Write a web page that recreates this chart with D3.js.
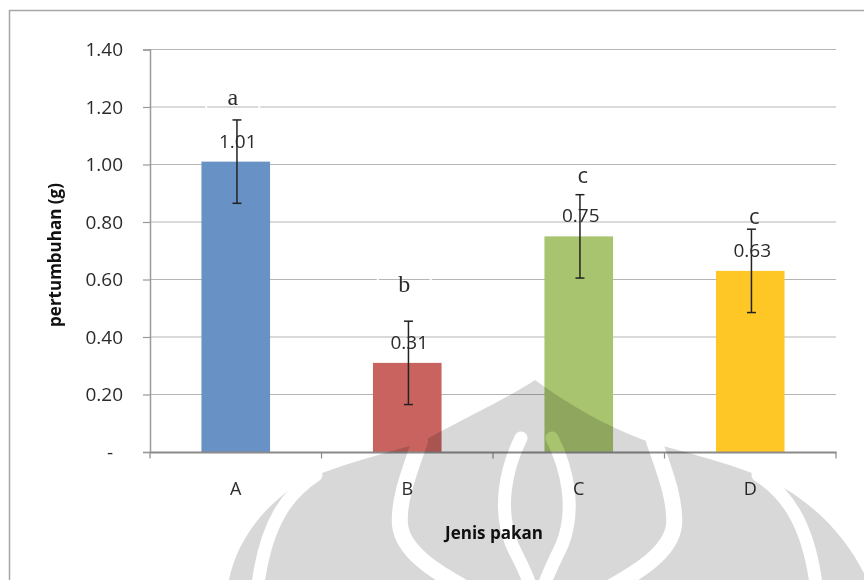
<!DOCTYPE html>
<html>
<head>
<meta charset="utf-8">
<script src="https://cdn.jsdelivr.net/npm/d3@7"></script>
<style>
  html, body { margin: 0; padding: 0; background: #fff; }
  svg { display: block; }
</style>
</head>
<body>
<svg id="chart" width="864" height="580"></svg>
<script>
// Growth per feed type
const categories = ["A", "B", "C", "D"];
const values = [1.01, 0.31, 0.75, 0.63];
const errors = [0.145, 0.145, 0.145, 0.145];
// Significance letters and the height (in g) of each letter's baseline
const letters = ["a", "b", "c", "c"];
const letterLevels = [1.207, 0.557, 0.935, 0.793];
const yTicks = [0, 0.2, 0.4, 0.6, 0.8, 1.0, 1.2, 1.4];

const barColors = ["#6891c6", "#c8635f", "#a8c46e", "#fec726"];
const letterFamilies = ["'Liberation Serif', serif", "'Liberation Serif', serif", "'Open Sans', sans-serif", "'Open Sans', sans-serif"];
const letterBoxed = [true, true, false, false];

const W = 864, H = 580;
const plot = { left: 150, right: 836, top: 49.5, bottom: 452 };
const sans = "'Open Sans', 'DejaVu Sans', sans-serif";
const textColor = "#2b2b2b";

const svg = d3.select("#chart");

const x = d3.scaleBand().domain(categories).range([plot.left, plot.right]);
const y = d3.scaleLinear().domain([0, 1.4]).range([plot.bottom, plot.top]);
const barW = x.bandwidth() * 0.4;
const cx = c => x(c) + x.bandwidth() / 2;

// Chart frame
svg.append("rect")
  .attr("x", 9.5).attr("y", 10.5)
  .attr("width", W + 20).attr("height", H + 20)
  .attr("fill", "#fff").attr("stroke", "#a6a6a6").attr("stroke-width", 1.5);

// Horizontal gridlines
svg.append("g").selectAll("line")
  .data(yTicks.filter(t => t > 0))
  .join("line")
  .attr("x1", plot.left).attr("x2", plot.right)
  .attr("y1", d => y(d)).attr("y2", d => y(d))
  .attr("stroke", "#b5b5b5").attr("stroke-width", 1.2);

// Y axis
const yAxis = d3.axisLeft(y)
  .tickValues(yTicks)
  .tickSize(7)
  .tickPadding(20)
  .tickFormat(d => d === 0 ? "-" : d3.format(".2f")(d));
const gy = svg.append("g").attr("transform", `translate(${plot.left},0)`).call(yAxis);
gy.select(".domain").attr("stroke", "#9a9a9a").attr("stroke-width", 1.5);
gy.selectAll(".tick line").attr("stroke", "#9a9a9a").attr("stroke-width", 1.2);
gy.selectAll(".tick text")
  .attr("font-family", sans).attr("font-size", 19).attr("fill", textColor)
  .attr("dx", d => d === 0 ? -10 : 0);

// Bars
svg.append("g").selectAll("rect")
  .data(categories)
  .join("rect")
  .attr("x", c => cx(c) - barW / 2)
  .attr("width", barW)
  .attr("y", (c, i) => y(values[i]))
  .attr("height", (c, i) => y(0) - y(values[i]))
  .attr("fill", (c, i) => barColors[i]);

// X axis
const xAxis = d3.axisBottom(x).tickSize(0).tickPadding(0).tickFormat("");
const gx = svg.append("g").attr("transform", `translate(0,${plot.bottom})`).call(xAxis);
gx.select(".domain").attr("stroke", "#8a8a8a").attr("stroke-width", 2);
const bounds = categories.map(c => x(c)).concat([plot.right]);
gx.selectAll(".bound").data(bounds).join("line")
  .attr("class", "bound")
  .attr("x1", d => d).attr("x2", d => d)
  .attr("y1", 0).attr("y2", 6.5)
  .attr("stroke", "#8a8a8a").attr("stroke-width", 1.2);
gx.selectAll(".cat").data(categories).join("text")
  .attr("class", "cat")
  .attr("x", c => cx(c)).attr("y", 43)
  .attr("text-anchor", "middle")
  .attr("font-family", sans).attr("font-size", 18).attr("fill", textColor)
  .text(c => c);

// Error bars
const eg = svg.append("g").attr("stroke", "#222").attr("stroke-width", 1.5).attr("fill", "none");
categories.forEach((c, i) => {
  const ex = cx(c) + 1.2;
  const hi = y(values[i] + errors[i]), lo = y(values[i] - errors[i]);
  eg.append("line").attr("x1", ex).attr("x2", ex).attr("y1", hi).attr("y2", lo);
  eg.append("line").attr("x1", ex - 4.5).attr("x2", ex + 4.5).attr("y1", hi).attr("y2", hi);
  eg.append("line").attr("x1", ex - 4.5).attr("x2", ex + 4.5).attr("y1", lo).attr("y2", lo);
});

// Value labels
svg.append("g").selectAll("text")
  .data(categories)
  .join("text")
  .attr("x", c => cx(c) + 2)
  .attr("y", (c, i) => y(values[i]) - 14)
  .attr("text-anchor", "middle")
  .attr("font-family", sans).attr("font-size", 19).attr("fill", textColor)
  .text((c, i) => d3.format(".2f")(values[i]));

// Significance letters (a and b sit in white-edged boxes)
const lg = svg.append("g");
categories.forEach((c, i) => {
  const lx = cx(c) + (i < 2 ? -3 : 4);
  const ly = y(letterLevels[i]);
  if (letterBoxed[i]) {
    lg.append("rect")
      .attr("x", lx - 26.5).attr("y", ly - 26).attr("width", 53).attr("height", 36)
      .attr("fill", "none").attr("stroke", "#fff").attr("stroke-width", 2);
  }
  lg.append("text")
    .attr("x", lx).attr("y", ly)
    .attr("text-anchor", "middle")
    .attr("font-family", letterFamilies[i])
    .attr("font-size", i < 2 ? 24 : 22)
    .attr("fill", textColor)
    .text(letters[i]);
});

// Axis titles
svg.append("text")
  .attr("x", 494).attr("y", 539)
  .attr("text-anchor", "middle")
  .attr("font-family", sans).attr("font-weight", 700).attr("font-size", 17)
  .attr("fill", "#111")
  .text("Jenis pakan");
svg.append("text")
  .attr("transform", "translate(61,255) rotate(-90)")
  .attr("text-anchor", "middle")
  .attr("font-family", sans).attr("font-weight", 700).attr("font-size", 17)
  .attr("fill", "#111")
  .text("pertumbuhan (g)");

// Background emblem, printed through everything beneath it:
// an onion-dome silhouette cut by white lines into rims, lobes and a central flame
const defs = svg.append("defs");
const mask = defs.append("mask").attr("id", "emblem-mask")
  .attr("maskUnits", "userSpaceOnUse")
  .attr("x", 0).attr("y", 0).attr("width", W).attr("height", H);
mask.append("path")
  .attr("fill", "#fff")
  .attr("d",
    "M227,592 C232,545 265,500 310,478 C345,463 390,452 420,443 " +
    "C450,425 505,400 535,380 C560,398 600,425 652,443 " +
    "C684,452 730,463 764,478 C815,500 855,545 872,592 Z");
const gaps = [
  { d: "M420,441 C410,470 398,500 400,525 C403,552 435,572 472,592", w: 16 },
  { d: "M654,441 C664,470 676,500 674,525 C671,552 639,572 602,592", w: 16 },
  { d: "M316,475 C290,492 265,520 257,592", w: 13 },
  { d: "M758,475 C784,492 809,520 817,592", w: 13 },
  { d: "M521,438 C505,470 498,510 512,545 C520,562 529,577 532,592", w: 13 },
  { d: "M552,438 C568,470 576,510 562,545 C554,562 546,577 542,592", w: 13 }
];
mask.append("g").selectAll("path").data(gaps).join("path")
  .attr("d", g => g.d)
  .attr("fill", "none").attr("stroke", "#000")
  .attr("stroke-width", g => g.w).attr("stroke-linecap", "round");

svg.append("rect")
  .attr("x", 0).attr("y", 0).attr("width", W).attr("height", H)
  .attr("fill", "#d8d8d8")
  .attr("mask", "url(#emblem-mask)")
  .style("mix-blend-mode", "multiply");
</script>
</body>
</html>
